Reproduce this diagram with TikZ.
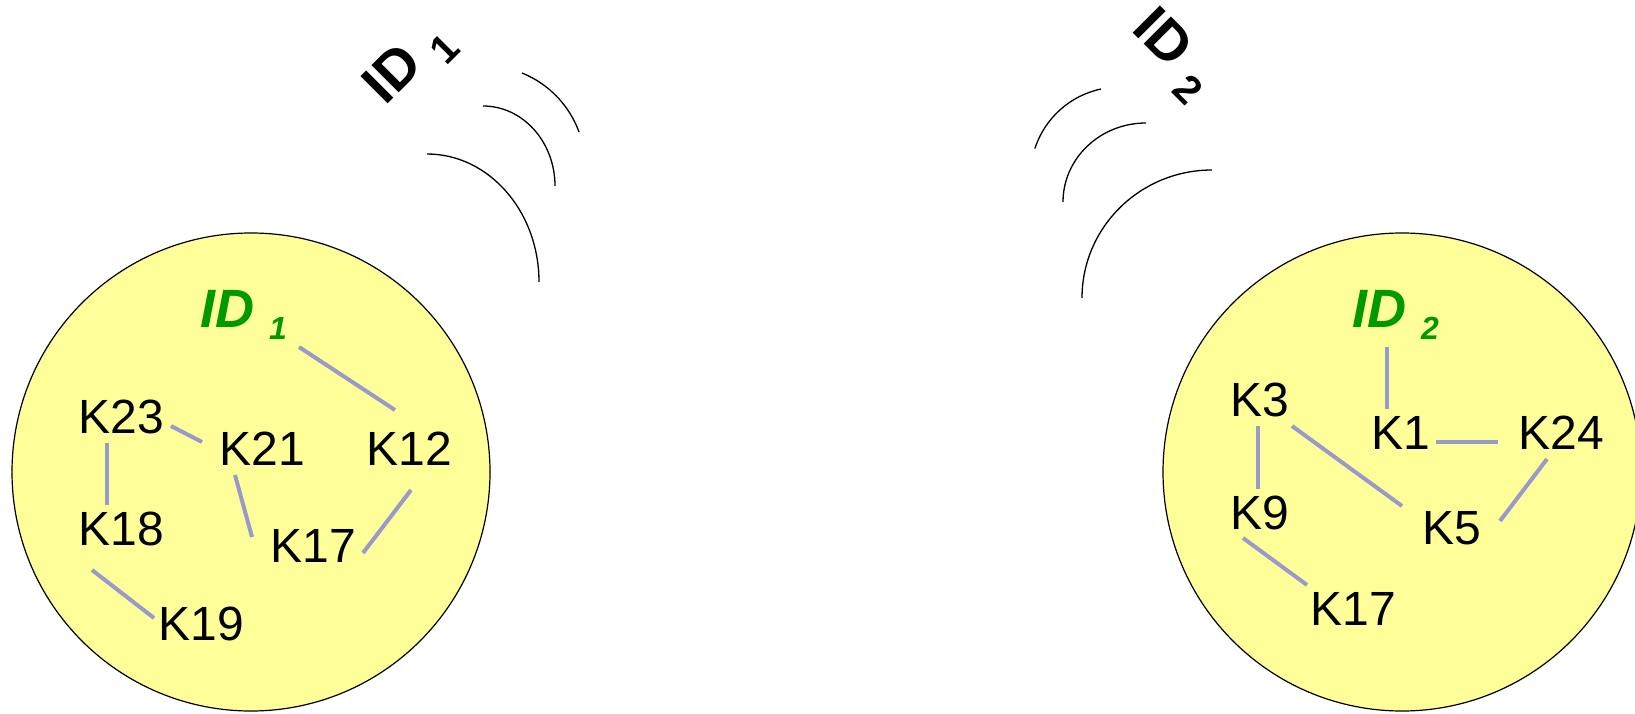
\documentclass[tikz,border=0pt]{standalone}
\usepackage{fontspec}
\setmainfont{Liberation Sans}
\usetikzlibrary{calc}
\definecolor{cellyellow}{RGB}{255,255,153}
\definecolor{idgreen}{RGB}{0,153,0}
\definecolor{linkblue}{RGB}{153,153,204}
\newcommand\idsub[3]{\raisebox{-#1}{\fontsize{#2}{#2}\selectfont #3}}
\tikzset{
  cell/.style={draw, line width=1.2pt, fill=cellyellow},
  key/.style={font=\fontsize{48}{57}\selectfont, inner sep=0pt},
  idlab/.style={font=\fontsize{54}{64}\selectfont\bfseries\itshape, text=idgreen, inner sep=0pt, anchor=base west},
  sig/.style={font=\fontsize{56}{67}\selectfont\bfseries, inner sep=0pt},
  link/.style={draw=linkblue, line width=4pt},
  wave/.style={line width=1.3pt}
}

\begin{document}
\begin{tikzpicture}[x=1pt,y=1pt]
    \useasboundingbox (0,0) rectangle (1635,713);
    \clip (0,0) rectangle (1635,713);
    % the two cells
    \draw[cell] (251,241) circle [radius=239];
    \draw[cell] (1402,241) circle [radius=239];
    % broadcast waves
    \draw[wave] (427,559) arc [start angle=90, end angle=0, x radius=112, y radius=128];
    \draw[wave] (483,607) arc [start angle=90, end angle=0, x radius=72, y radius=80];
    \draw[wave] (522,640) arc [start angle=68, end angle=20, radius=101];
    \draw[wave] (1212,543) arc [start angle=90, end angle=180, x radius=130, y radius=128];
    \draw[wave] (1146,590) arc [start angle=90, end angle=180, x radius=83, y radius=79];
    \draw[wave] (1101,624) arc [start angle=102, end angle=162, radius=89];
    \node[sig, rotate=45] (sig1) at (410,648) {ID\ \idsub{14pt}{40}{1}};
    \node[sig, rotate=-45] (sig2) at (1172,658) {ID\ \idsub{14pt}{40}{2}};
    % first cell
    \node[idlab] (id1) at (200,385) {ID\ \idsub{12pt}{32}{1}};
    \node[key] (k23) at (121,296.5) {K23};
    \node[key] (k21) at (262.5,264) {K21};
    \node[key] (k12) at (409.5,264) {K12};
    \node[key] (k18) at (121,184.5) {K18};
    \node[key] (k17a) at (313,167.5) {K17};
    \node[key] (k19) at (201.5,89.5) {K19};
    \draw[link] ($(id1.base west)+(99,-19)$) -- ($(k12)+(-14.5,39)$);
    \draw[link] ($(k23)+(50,-9.5)$) -- ($(k21)+(-60.5,7)$);
    \draw[link] ($(k23)+(-14,-26.5)$) -- ($(k18)+(-14,23.5)$);
    \draw[link] ($(k21)+(-27.5,-26)$) -- ($(k17a)+(-61,8.5)$);
    \draw[link] ($(k12)+(1.5,-41)$) -- ($(k17a)+(50,-7.5)$);
    \draw[link] ($(k18)+(-29,-41.5)$) -- ($(k19)+(-47.5,5.5)$);
    % second cell
    \node[idlab] (id2) at (1352,385) {ID\ \idsub{12pt}{32}{2}};
    \node[key] (k3) at (1260,313) {K3};
    \node[key] (k1) at (1401,280) {K1};
    \node[key] (k24) at (1561.5,280) {K24};
    \node[key] (k9) at (1260,200) {K9};
    \node[key] (k5) at (1451.5,184.5) {K5};
    \node[key] (k17b) at (1353,104.5) {K17};
    \draw[link] ($(id2.base west)+(35,-19)$) -- ($(k1)+(-14,24)$);
    \draw[link] ($(k1)+(35,-9)$) -- ($(k24)+(-63.5,-9)$);
    \draw[link] ($(k3)+(32,-26)$) -- ($(k5)+(-49.5,22.5)$);
    \draw[link] ($(k3)+(-2,-26)$) -- ($(k9)+(-2,24)$);
    \draw[link] ($(k24)+(-14.5,-26)$) -- ($(k5)+(48.5,7.5)$);
    \draw[link] ($(k9)+(-17,-25)$) -- ($(k17b)+(-46,23.5)$);
\end{tikzpicture}
\end{document}
